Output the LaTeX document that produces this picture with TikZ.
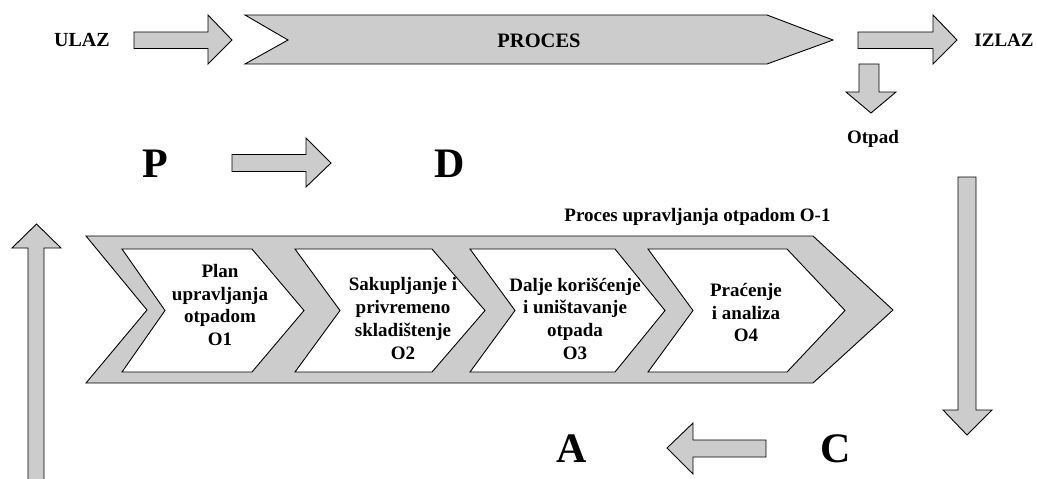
\documentclass[tikz,border=0pt]{standalone}
\usepackage{fontspec}
\setmainfont{Liberation Serif}
\begin{document}
\begin{tikzpicture}[x=1pt,y=-1pt,line join=miter]
\definecolor{shade}{RGB}{204,204,204}
\tikzset{
  blockarrow/.style={draw=black,fill=shade,line width=0.9pt},
  stagebox/.style={draw=black,fill=white,line width=0.9pt},
  lbl/.style={font=\bfseries\fontsize{19}{22.7}\selectfont,inner sep=0pt,align=center},
  biglbl/.style={font=\bfseries\fontsize{42}{48}\selectfont,inner sep=0pt,anchor=base},
}
\clip (0,0) rectangle (1037,479);

% input / process / output row
\draw[blockarrow] (134,32) -- (208,32) -- (208,15) -- (232,40) -- (208,64)
  -- (208,48.5) -- (134,48.5) -- cycle;
\draw[blockarrow] (245,15) -- (767,15) -- (833,40) -- (767,64) -- (245,64)
  -- (288,40) -- cycle;
\draw[blockarrow] (858,32) -- (933,32) -- (933,15) -- (957,40) -- (933,64)
  -- (933,48.5) -- (858,48.5) -- cycle;
\draw[blockarrow] (859,64) -- (879,64) -- (879,92) -- (896,92) -- (871,113)
  -- (846,92) -- (859,92) -- cycle;

\node[lbl,anchor=base,font=\bfseries\fontsize{20}{24}\selectfont] (ulaz) at (82,46) {ULAZ};
\node[lbl,anchor=base,font=\bfseries\fontsize{20.5}{24}\selectfont] (proces) at (539,47) {PROCES};
\node[lbl,anchor=base] (izlaz) at (1004,46) {IZLAZ};
\node[lbl,anchor=base] (otpad) at (873,143) {Otpad};

% PDCA letters and the arrows between them
\node[biglbl] (P) at (155.5,177) {P};
\node[biglbl] (D) at (449.5,177) {D};
\node[biglbl] (A) at (571.5,462) {A};
\node[biglbl] (C) at (836,462) {C};

\draw[blockarrow] (232,154.5) -- (306,154.5) -- (306,138) -- (331,163) -- (306,187)
  -- (306,171.5) -- (232,171.5) -- cycle;
\draw[blockarrow] (958,177) -- (976,177) -- (976,410) -- (992,410) -- (967,435)
  -- (943,410) -- (958,410) -- cycle;
\draw[blockarrow] (766,440) -- (693,440) -- (693,423) -- (667,448) -- (693,474)
  -- (693,457) -- (766,457) -- cycle;
\draw[blockarrow] (28,485) -- (28,248) -- (12,248) -- (36.5,224) -- (61,248)
  -- (44,248) -- (44,485) -- cycle;

% waste management process
\node[lbl,anchor=base] (title) at (697.5,221) {Proces upravljanja otpadom O-1};
\draw[blockarrow] (86,236) -- (813,236) -- (893,310) -- (813,383) -- (86,383)
  -- (147,310) -- cycle;

\draw[stagebox] (122,249) -- (252,249) -- (304,310.5) -- (252,372) -- (122,372)
  -- (165,310.5) -- cycle;
\draw[stagebox] (295,249) -- (432,249) -- (485,310.5) -- (432,372) -- (295,372)
  -- (340,310.5) -- cycle;
\draw[stagebox] (470,249) -- (615,249) -- (665,310.5) -- (615,372) -- (470,372)
  -- (515,310.5) -- cycle;
\draw[stagebox] (648,249) -- (787,249) -- (845,310.5) -- (787,372) -- (648,372)
  -- (693,310.5) -- cycle;

\node[lbl] (o1) at (220,305) {Plan\\upravljanja\\otpadom\\O1};
\node[lbl] (o2) at (403,318.5) {Sakupljanje i\\privremeno\\skladištenje\\O2};
\node[lbl] (o3) at (575,318.5) {Dalje korišćenje\\i uništavanje\\otpada\\O3};
\node[lbl] (o4) at (746,312.5) {Praćenje\\i analiza\\O4};
\end{tikzpicture}
\end{document}
